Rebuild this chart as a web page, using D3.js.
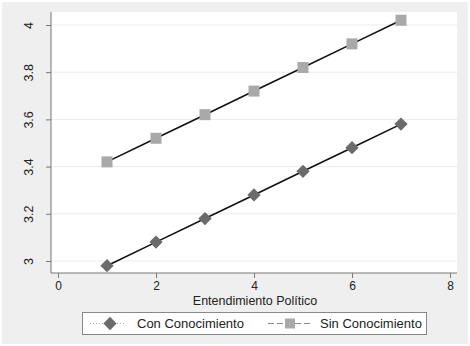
<!DOCTYPE html>
<html lang="en">
<head>
    <meta charset="UTF-8">
    <script src="https://cdnjs.cloudflare.com/ajax/libs/d3/7.8.5/d3.min.js"></script>
    <style>
        body { margin: 0; background: #ffffff; }
        text { font-family: "Liberation Sans", Arial, sans-serif; fill: #222; }
        .axis path, .axis line { stroke: #777; }
        .grid line { stroke: #ebebeb; }
    </style>
</head>
<body>
    <svg width="470" height="346"></svg>
    <script>
        const xValues = [1, 2, 3, 4, 5, 6, 7];
        const conValues = [2.98, 3.08, 3.18, 3.28, 3.38, 3.48, 3.58];
        const sinValues = [3.42, 3.52, 3.62, 3.72, 3.82, 3.92, 4.02];
        const xTicks = [0, 2, 4, 6, 8];
        const yTicks = [3, 3.2, 3.4, 3.6, 3.8, 4];
        const legendLabels = ["Con Conocimiento", "Sin Conocimiento"];

        const svg = d3.select("svg");

        // outer background
        svg.append("rect")
            .attr("x", 2).attr("y", 2)
            .attr("width", 466).attr("height", 342)
            .attr("fill", "#efefef");

        const plotL = 51, plotR = 457, plotT = 12, plotB = 273;

        svg.append("rect")
            .attr("x", plotL).attr("y", plotT)
            .attr("width", plotR - plotL).attr("height", plotB - plotT)
            .attr("fill", "#ffffff");

        const x = d3.scaleLinear().domain([0, 8]).range([58, 450]);
        const y = d3.scaleLinear().domain([3, 4]).range([261, 25]);

        svg.append("g")
            .attr("class", "grid")
            .selectAll("line")
            .data(yTicks)
            .enter()
            .append("line")
            .attr("x1", plotL).attr("x2", plotR)
            .attr("y1", d => y(d)).attr("y2", d => y(d));

        const yAxis = svg.append("g")
            .attr("class", "axis")
            .attr("transform", `translate(${plotL},0)`)
            .call(d3.axisLeft(y).tickValues(yTicks).tickSize(5).tickSizeOuter(0).tickFormat(d3.format("~g")));
        yAxis.select(".domain").attr("d", `M0,${plotT}V${plotB}`);
        yAxis.selectAll(".tick text")
            .attr("font-size", 12.5)
            .attr("transform", "rotate(-90)")
            .attr("x", 0)
            .attr("y", -18)
            .attr("dy", 0)
            .attr("text-anchor", "middle");

        const xAxis = svg.append("g")
            .attr("class", "axis")
            .attr("transform", `translate(0,${plotB})`)
            .call(d3.axisBottom(x).tickValues(xTicks).tickSize(5).tickSizeOuter(0));
        xAxis.select(".domain").attr("d", `M${plotL},0H${plotR}`);
        xAxis.selectAll("text").attr("font-size", 12).attr("y", 8);

        svg.append("text")
            .attr("x", 255).attr("y", 305)
            .attr("text-anchor", "middle")
            .attr("font-size", 12.5)
            .text("Entendimiento Político");

        const line = d3.line()
            .x((d, i) => x(xValues[i]))
            .y(d => y(d));

        [conValues, sinValues].forEach(vals => {
            svg.append("path")
                .attr("d", line(vals))
                .attr("fill", "none")
                .attr("stroke", "#111")
                .attr("stroke-width", 1.6);
        });

        svg.append("g")
            .selectAll("rect")
            .data(sinValues)
            .enter()
            .append("rect")
            .attr("x", (d, i) => x(xValues[i]) - 5.5)
            .attr("y", d => y(d) - 5.5)
            .attr("width", 11).attr("height", 11)
            .attr("fill", "#a9a9a9");

        const diamond = d3.symbol().type(d3.symbolSquare).size(88);
        svg.append("g")
            .selectAll("path")
            .data(conValues)
            .enter()
            .append("path")
            .attr("d", diamond)
            .attr("transform", (d, i) => `translate(${x(xValues[i])},${y(d)}) rotate(45)`)
            .attr("fill", "#6b6b6b");

        // legend
        const lg = svg.append("g");
        lg.append("rect")
            .attr("x", 82.5).attr("y", 312.5)
            .attr("width", 344).attr("height", 22)
            .attr("fill", "#ffffff")
            .attr("stroke", "#888");

        const ly = 323.5;
        lg.append("line")
            .attr("x1", 90).attr("x2", 126).attr("y1", ly).attr("y2", ly)
            .attr("stroke", "#aaa").attr("stroke-width", 1).attr("stroke-dasharray", "1,2");
        lg.append("path")
            .attr("d", diamond)
            .attr("transform", `translate(110,${ly}) rotate(45)`)
            .attr("fill", "#6b6b6b");
        lg.append("text")
            .attr("x", 137).attr("y", ly + 4.5)
            .attr("font-size", 13)
            .text(legendLabels[0]);

        lg.append("line")
            .attr("x1", 268).attr("x2", 313).attr("y1", ly).attr("y2", ly)
            .attr("stroke", "#888").attr("stroke-width", 1.2).attr("stroke-dasharray", "6,3");
        lg.append("rect")
            .attr("x", 285).attr("y", ly - 5)
            .attr("width", 10).attr("height", 10)
            .attr("fill", "#a9a9a9");
        lg.append("text")
            .attr("x", 320).attr("y", ly + 4.5)
            .attr("font-size", 13)
            .text(legendLabels[1]);
    </script>
</body>
</html>
